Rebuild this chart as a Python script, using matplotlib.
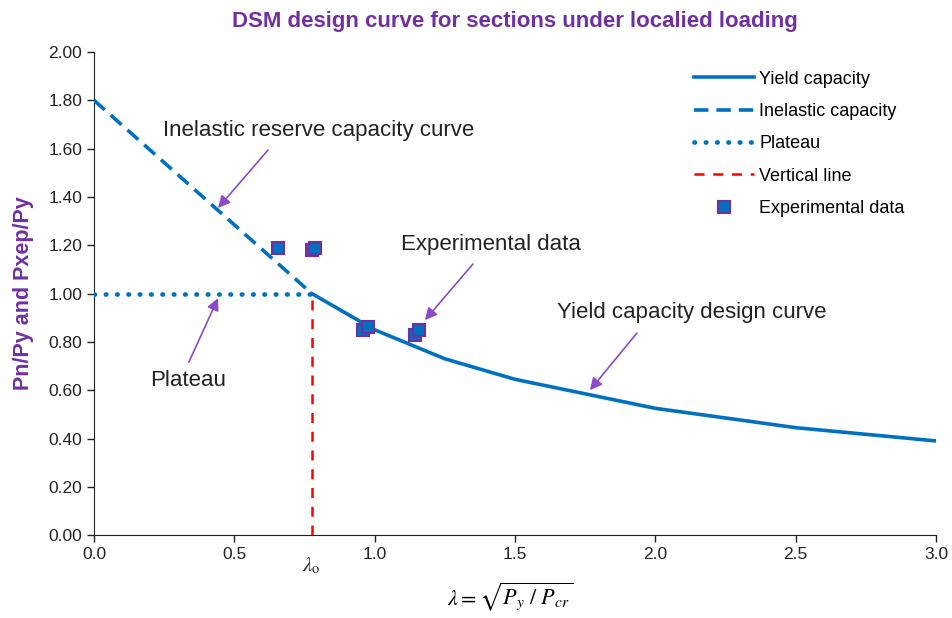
import matplotlib.pyplot as plt
import numpy as np

plt.rcParams['font.family'] = ['Liberation Sans', 'DejaVu Sans']
plt.rcParams['mathtext.fontset'] = 'stix'

# DSM yield capacity curve (lambda > lambda_o)
yield_lam = [0.776, 1.0, 1.25, 1.5, 2.0, 2.5, 3.0]
yield_cap = [1.00, 0.85, 0.73, 0.645, 0.525, 0.445, 0.39]

# inelastic reserve capacity
inel_lam = [0.0, 0.776]
inel_cap = [1.80, 1.00]

# plateau
plat_lam = [0.0, 0.776]
plat_cap = [1.00, 1.00]

# vertical line at lambda_o
lam_o = 0.776
vert_cap = [0.0, 1.00]

# test results
exp_lam = [0.655, 0.777, 0.787, 0.958, 0.976, 1.144, 1.158]
exp_cap = [1.19, 1.18, 1.19, 0.85, 0.86, 0.83, 0.85]

blue = '#0070C0'
purple = '#7030A0'
arrow_c = '#8B4BC8'
txt_c = '#222222'

fig = plt.figure(figsize=(9.53, 6.18), dpi=100)
ax = fig.add_axes([0.0986, 0.134, 0.8836, 0.782])

ax.plot(yield_lam, yield_cap, color=blue, lw=2.6, label='Yield capacity', zorder=3)
ax.plot(inel_lam, inel_cap, color=blue, lw=2.6, dashes=(4, 2.2), label='Inelastic capacity', zorder=3)
ax.plot(plat_lam, plat_cap, color=blue, lw=3.4, dashes=(0.1, 2.3), dash_capstyle='round',
        label='Plateau', zorder=3)
ax.plot([lam_o, lam_o], vert_cap, color='#FF0000', lw=1.8, dashes=(4, 3.5), label='Vertical line', zorder=3)
ax.plot(exp_lam, exp_cap, ls='none', marker='s', ms=8.5, mfc=blue, mec=purple, mew=1.5,
        label='Experimental data', zorder=4)

ax.set_xlim(0, 3.0)
ax.set_ylim(0, 2.0)
ax.set_xticks(np.arange(0, 3.01, 0.5))
ax.set_yticks(np.arange(0, 2.01, 0.2))
ax.xaxis.set_major_formatter(plt.FormatStrFormatter('%.1f'))
ax.yaxis.set_major_formatter(plt.FormatStrFormatter('%.2f'))
ax.tick_params(labelsize=12.5, direction='out', length=5, width=1, colors=txt_c)
for s in ['top', 'right']:
    ax.spines[s].set_visible(False)
for s in ['left', 'bottom']:
    ax.spines[s].set_color(txt_c)

ax.set_title('DSM design curve for sections under localied loading', fontsize=16, fontweight='bold',
             color=purple, pad=18)
ax.set_ylabel('Pn/Py and Pxep/Py', fontsize=15.5, fontweight='bold', color=purple, labelpad=10)
ax.set_xlabel(r'$\lambda = \sqrt{P_y\ /\ P_{cr}}$', fontsize=16)
ax.xaxis.set_label_coords(0.494, -0.093)

ax.text(lam_o, -0.062, r'$\lambda_{\rm o}$', transform=ax.get_xaxis_transform(),
        ha='center', va='center', fontsize=15, color=txt_c)

# callout labels
ax.text(0.80, 1.673, 'Inelastic reserve capacity curve', fontsize=16, color=txt_c, ha='center', va='center')
ax.text(0.335, 0.642, 'Plateau', fontsize=16, color=txt_c, ha='center', va='center')
ax.text(1.414, 1.205, 'Experimental data', fontsize=16, color=txt_c, ha='center', va='center')
ax.text(2.13, 0.923, 'Yield capacity design curve', fontsize=16, color=txt_c, ha='center', va='center')

# callout arrows: (tail, head)
arrows = [((0.620, 1.594), (0.442, 1.354)),
          ((0.338, 0.716), (0.442, 0.981)),
          ((1.350, 1.122), (1.179, 0.890)),
          ((1.934, 0.836), (1.767, 0.600))]
for tail, head in arrows:
    ax.annotate('', xy=head, xytext=tail,
                arrowprops=dict(arrowstyle='-|>', color=arrow_c, lw=1.2, mutation_scale=18,
                                shrinkA=0, shrinkB=0))

ax.legend(loc='upper right', bbox_to_anchor=(0.982, 0.995), frameon=False, fontsize=13,
          handlelength=3.3, labelspacing=0.85, handletextpad=0.3)

fig.savefig('out.png', dpi=100)
